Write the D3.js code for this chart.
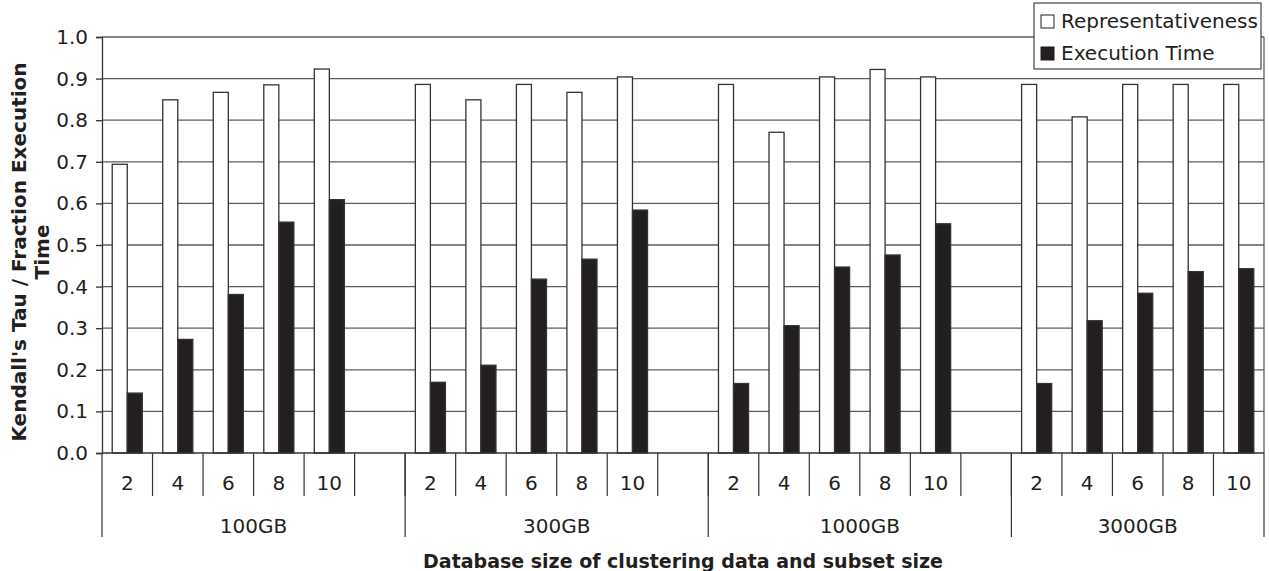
<!DOCTYPE html>
<html>
<head>
<meta charset="utf-8">
<script src="https://cdn.jsdelivr.net/npm/d3@7"></script>
<style>
  body { margin: 0; background: #fff; }
  svg { display: block; font-family: "DejaVu Sans", Verdana, sans-serif; }
</style>
</head>
<body>
<div class="canvas"></div>
<script>
// data
const groups = ["100GB", "300GB", "1000GB", "3000GB"];
const subsets = ["2", "4", "6", "8", "10"];
const seriesNames = ["Representativeness", "Execution Time"];
const representativeness = [
  [0.694, 0.849, 0.867, 0.885, 0.923],
  [0.886, 0.849, 0.886, 0.867, 0.904],
  [0.886, 0.771, 0.904, 0.922, 0.904],
  [0.886, 0.808, 0.886, 0.886, 0.886]
];
const executionTime = [
  [0.144, 0.273, 0.381, 0.555, 0.609],
  [0.170, 0.211, 0.418, 0.466, 0.584],
  [0.167, 0.306, 0.447, 0.476, 0.551],
  [0.167, 0.318, 0.384, 0.436, 0.443]
];
const yTicks = [0, 0.1, 0.2, 0.3, 0.4, 0.5, 0.6, 0.7, 0.8, 0.9, 1.0];

// sizes
const w = 1269;
const h = 571;
const margin = { top: 37, right: 5, bottom: 118, left: 102 };
const graphWidth = w - margin.left - margin.right;
const graphHeight = h - margin.top - margin.bottom;
const ink = "#231f20";
const gridColor = "#5e5e5e";
const labelSize = 20;

const svg = d3.select(".canvas").append("svg").attr("width", w).attr("height", h);
const graph = svg.append("g").attr("transform", `translate(${margin.left}, ${margin.top})`);

// slots: every group gets a blank slot after it except the last
const slots = [];
groups.forEach((g, gi) => {
  subsets.forEach((s, si) => slots.push({ key: g + "-" + s, group: gi, label: s, sub: si }));
  if (gi < groups.length - 1) slots.push({ key: g + "-blank", group: gi, label: "", sub: -1 });
});

const xScale = d3.scaleBand().domain(slots.map((d) => d.key)).range([0, graphWidth]);
const xInner = d3.scaleBand().domain(seriesNames).range([0, xScale.bandwidth()]).paddingOuter(0.68);
const yScale = d3.scaleLinear().domain([0, 1]).range([graphHeight, 0]);

// gridlines
graph
  .append("g")
  .selectAll("line")
  .data(yTicks.slice(1))
  .enter()
  .append("line")
  .attr("x1", 0)
  .attr("x2", graphWidth)
  .attr("y1", (d) => yScale(d))
  .attr("y2", (d) => yScale(d))
  .attr("stroke", gridColor)
  .attr("stroke-width", 1.3);

// right border of plot
graph
  .append("line")
  .attr("x1", graphWidth)
  .attr("x2", graphWidth)
  .attr("y1", 0)
  .attr("y2", graphHeight)
  .attr("stroke", gridColor)
  .attr("stroke-width", 1.3);

// bars
const barData = [];
slots.forEach((s) => {
  if (s.sub < 0) return;
  barData.push({ slot: s.key, series: seriesNames[0], value: representativeness[s.group][s.sub] });
  barData.push({ slot: s.key, series: seriesNames[1], value: executionTime[s.group][s.sub] });
});

graph
  .append("g")
  .selectAll("rect")
  .data(barData)
  .enter()
  .append("rect")
  .attr("x", (d) => xScale(d.slot) + xInner(d.series))
  .attr("y", (d) => yScale(d.value))
  .attr("width", xInner.bandwidth())
  .attr("height", (d) => graphHeight - yScale(d.value))
  .attr("fill", (d) => (d.series === seriesNames[0] ? "#fff" : ink))
  .attr("stroke", "#333")
  .attr("stroke-width", 1.3);

// y-axis
const yAxis = d3.axisLeft(yScale).tickValues(yTicks).tickFormat(d3.format(".1f")).tickSize(6).tickPadding(8);
const yAxisG = graph.append("g").attr("id", "y-axis").call(yAxis);
yAxisG.select(".domain").attr("stroke", "#333").attr("stroke-width", 1.3);
yAxisG.selectAll(".tick line").attr("stroke", "#333").attr("stroke-width", 1.3);
yAxisG.selectAll("text").attr("font-size", labelSize).attr("fill", ink).attr("font-family", "DejaVu Sans");

// x-axis: baseline, slot separators, subset labels
const xAxisG = graph.append("g").attr("transform", `translate(0, ${graphHeight})`);
xAxisG
  .append("line")
  .attr("x1", 0)
  .attr("x2", graphWidth)
  .attr("stroke", "#333")
  .attr("stroke-width", 1.3);

// short separators between slots
xAxisG
  .selectAll(".sep")
  .data(slots.slice(1))
  .enter()
  .append("line")
  .attr("x1", (d) => xScale(d.key))
  .attr("x2", (d) => xScale(d.key))
  .attr("y1", 0)
  .attr("y2", 43)
  .attr("stroke", "#333")
  .attr("stroke-width", 1.2);

// long separators at group boundaries
const groupEdges = [0];
groups.forEach((g, gi) => {
  const last = slots.filter((s) => s.group === gi).pop();
  groupEdges.push(xScale(last.key) + xScale.bandwidth());
});
xAxisG
  .selectAll(".gsep")
  .data(groupEdges)
  .enter()
  .append("line")
  .attr("x1", (d) => d)
  .attr("x2", (d) => d)
  .attr("y1", 0)
  .attr("y2", 84)
  .attr("stroke", "#333")
  .attr("stroke-width", 1.2);

xAxisG
  .selectAll(".sublabel")
  .data(slots.filter((s) => s.label))
  .enter()
  .append("text")
  .attr("x", (d) => xScale(d.key) + xScale.bandwidth() / 2)
  .attr("y", 37)
  .attr("text-anchor", "middle")
  .attr("font-size", labelSize)
  .attr("fill", ink)
  .text((d) => d.label);

xAxisG
  .selectAll(".grouplabel")
  .data(groups)
  .enter()
  .append("text")
  .attr("x", (d, i) => (groupEdges[i] + groupEdges[i + 1]) / 2)
  .attr("y", 80)
  .attr("text-anchor", "middle")
  .attr("font-size", labelSize)
  .attr("fill", ink)
  .text((d) => d);

// axis titles
svg
  .append("text")
  .attr("x", margin.left + graphWidth / 2)
  .attr("y", 568)
  .attr("text-anchor", "middle")
  .attr("font-size", 19)
  .attr("font-weight", "bold")
  .attr("fill", ink)
  .text("Database size of clustering data and subset size");

const yTitle = svg
  .append("text")
  .attr("transform", "translate(0, 252) rotate(-90)")
  .attr("text-anchor", "middle")
  .attr("font-size", 20)
  .attr("font-weight", "bold")
  .attr("fill", ink);
yTitle.append("tspan").attr("x", 0).attr("y", 26).text("Kendall's Tau / Fraction Execution");
yTitle.append("tspan").attr("x", 0).attr("y", 49).text("Time");

// legend
const legend = svg.append("g").attr("transform", "translate(1034, 3)");
legend
  .append("rect")
  .attr("width", 227)
  .attr("height", 66)
  .attr("fill", "#fff")
  .attr("stroke", "#444")
  .attr("stroke-width", 1.2);
seriesNames.forEach((name, i) => {
  legend
    .append("rect")
    .attr("x", 7)
    .attr("y", 12 + i * 32)
    .attr("width", 13)
    .attr("height", 13)
    .attr("fill", i === 0 ? "#fff" : ink)
    .attr("stroke", ink)
    .attr("stroke-width", 1);
  legend
    .append("text")
    .attr("x", 27)
    .attr("y", 25 + i * 32)
    .attr("font-size", labelSize)
    .attr("fill", ink)
    .text(name);
});
</script>
</body>
</html>
